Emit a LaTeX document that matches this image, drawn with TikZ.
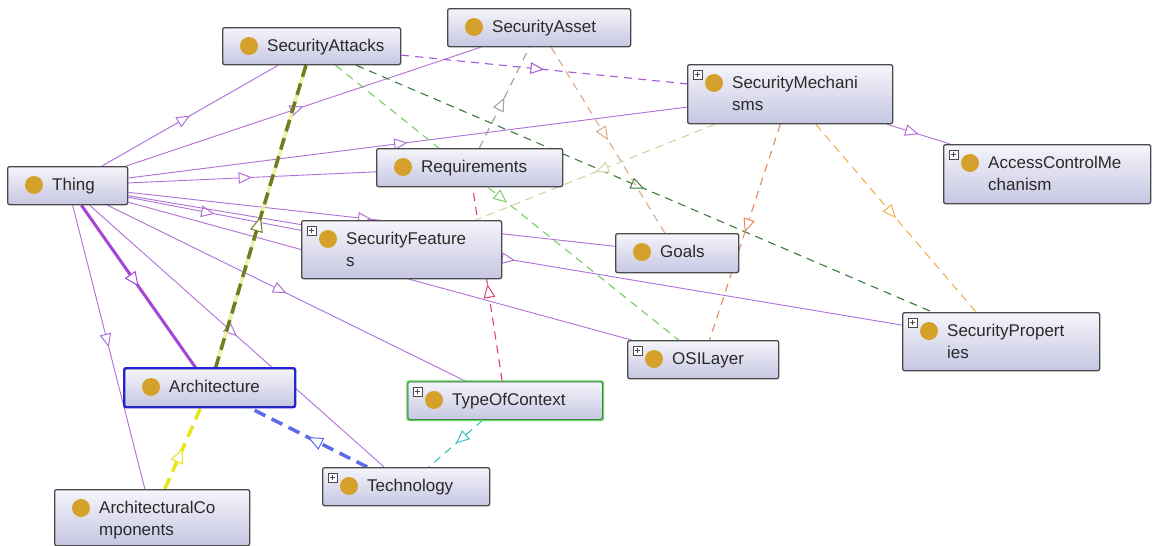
\documentclass[tikz,border=0pt]{standalone}
\usepackage{fontspec}
\setmainfont{Liberation Sans}
\usetikzlibrary{arrows.meta,decorations.markings,calc}
\pgfdeclarelayer{bg}
\pgfdeclarelayer{edges}
\pgfsetlayers{bg,edges,main}
\definecolor{boxtop}{HTML}{F5F5FB}
\definecolor{boxbot}{HTML}{C6C6E2}
\definecolor{boxline}{HTML}{4A4A4A}
\definecolor{dotc}{HTML}{D6A12A}
\definecolor{txt}{HTML}{2A2A2A}
\definecolor{isac}{HTML}{B070D8}
\definecolor{isathick}{HTML}{A445D8}
\definecolor{violetc}{HTML}{A557D8}
\definecolor{lgreen}{HTML}{77CC66}
\definecolor{dgreen}{HTML}{3D7A3D}
\definecolor{olivec}{HTML}{6E7D1F}
\definecolor{paleyel}{HTML}{EEF0A8}
\definecolor{yelc}{HTML}{E6E61A}
\definecolor{bluec}{HTML}{5A6AE8}
\definecolor{cyanc}{HTML}{3CC0C0}
\definecolor{pinkc}{HTML}{E0407A}
\definecolor{grayc}{HTML}{A0A0A0}
\definecolor{tanc}{HTML}{DBA98A}
\definecolor{khakic}{HTML}{CFD6A0}
\definecolor{brownc}{HTML}{E28A5A}
\definecolor{orangec}{HTML}{F2B050}
\definecolor{archblue}{HTML}{2222DD}
\definecolor{tocgreen}{HTML}{55DD55}
\tikzset{
  cls/.style={rectangle, draw=boxline, line width=1.3pt, rounded corners=2pt,
    top color=boxtop, bottom color=boxbot, inner sep=0pt, anchor=north west},
  lbl/.style={font=\fontsize{17}{22}\selectfont, text=txt, inner sep=0pt, align=left},
  dot/.style={circle, fill=dotc, minimum size=18pt, inner sep=0pt},
  midtri/.style={postaction={decorate}, decoration={markings,
    mark=at position 0.5 with {\arrow{Triangle[fill=white, length=13pt 0.6, width=11pt 0.6, line width=1pt]}}}},
  isa/.style={color=isac, line width=0.9pt, midtri},
  rel/.style={line width=1.1pt, dash pattern=on 8pt off 6pt, midtri},
  thickrel/.style={line width=3.5pt, dash pattern=on 12pt off 7pt, midtri},
}
\newcommand\onto[6]{%
  \node[cls, minimum width=#4pt, minimum height=#5pt] (#1) at (#2,#3) {};
  \node[dot] (#1-d) at ($(#1.north west)+(27,19)$) {};
  \node[lbl, anchor=north west] (#1-t) at ($(#1.north west)+(45,12)$) {#6};
}
\newcommand\plusbox[1]{%
  \draw[fill=white, draw=boxline, line width=0.7pt] ($(#1.north west)+(6,6)$) rectangle ($(#1.north west)+(15,15)$);
  \draw[boxline, line width=0.8pt] ($(#1.north west)+(8,10.5)$) -- ($(#1.north west)+(13,10.5)$);
  \draw[boxline, line width=0.8pt] ($(#1.north west)+(10.5,8)$) -- ($(#1.north west)+(10.5,13)$);
}
\begin{document}
\begin{tikzpicture}[x=1pt, y=-1pt]
\useasboundingbox (0,0) rectangle (1152,546);
\begin{pgfonlayer}{bg}
\fill[white] (0,0) rectangle (1152,546);
\end{pgfonlayer}

\onto{satk}{222}{27}{178}{37}{SecurityAttacks}
\onto{sast}{447}{8}{183}{38}{SecurityAsset}
\onto{smech}{687}{64}{205}{59}{SecurityMechani\\sms}
\onto{acm}{943}{144}{207}{59}{AccessControlMe\\chanism}
\onto{thing}{7}{166}{120}{38}{Thing}
\onto{req}{376}{148}{186}{38}{Requirements}
\onto{sfeat}{301}{220}{200}{58}{SecurityFeature\\s}
\onto{goals}{615}{233}{123}{39}{Goals}
\onto{osi}{627}{340}{151}{38}{OSILayer}
\onto{sprop}{902}{312}{197}{58}{SecurityPropert\\ies}
\onto{arch}{124}{368}{170}{38}{Architecture}
\onto{toc}{407}{381}{195}{38}{TypeOfContext}
\onto{tech}{322}{467}{167}{38}{Technology}
\onto{acomp}{54}{489}{195}{56}{ArchitecturalCo\\mponents}

\draw[archblue, line width=2pt, rounded corners=2pt] (arch.north west) rectangle (arch.south east);
\draw[tocgreen, line width=1.4pt, rounded corners=2pt] (toc.north west) rectangle (toc.south east);

\plusbox{smech}
\plusbox{acm}
\plusbox{sfeat}
\plusbox{osi}
\plusbox{sprop}
\plusbox{toc}
\plusbox{tech}

\begin{pgfonlayer}{edges}
  % subclass links
  \draw[isa] (thing) -- (satk);
  \draw[isa] (thing) -- (sast);
  \draw[isa] (thing) -- (smech);
  \draw[isa] (thing) -- (req);
  \draw[isa] (thing) -- (sfeat);
  \draw[isa] (thing) -- (goals);
  \draw[isa] (thing) -- (sprop);
  \draw[isa] (thing) -- (osi);
  \draw[isa] (thing) -- (toc);
  \draw[isa] (thing) -- (tech);
  \draw[isa] (thing) -- (acomp);
  \draw[isa] (smech) -- (acm);
  \draw[isa, color=isathick, line width=3pt] (thing) -- (arch);
  % property links
  \draw[rel, color=violetc] (satk) -- (smech);
  \draw[rel, color=lgreen] (satk) -- (osi);
  \draw[rel, color=dgreen] (satk) -- (sprop);
  \draw[paleyel, line width=3.5pt] (arch) -- (satk);
  \draw[thickrel, color=olivec] (arch) -- (satk);
  \draw[thickrel, color=yelc] (acomp) -- (arch);
  \draw[thickrel, color=bluec] (tech) -- (arch);
  \draw[rel, color=cyanc] (toc) -- (tech);
  \draw[rel, color=pinkc] (toc) -- (req);
  \draw[rel, color=grayc] (req) -- (sast);
  \draw[rel, color=tanc] (sast) -- (goals);
  \draw[rel, color=khakic] (smech) -- (sfeat);
  \draw[rel, color=brownc] (smech) -- (osi);
  \draw[rel, color=orangec] (smech) -- (sprop);
\end{pgfonlayer}
\end{tikzpicture}
\end{document}
